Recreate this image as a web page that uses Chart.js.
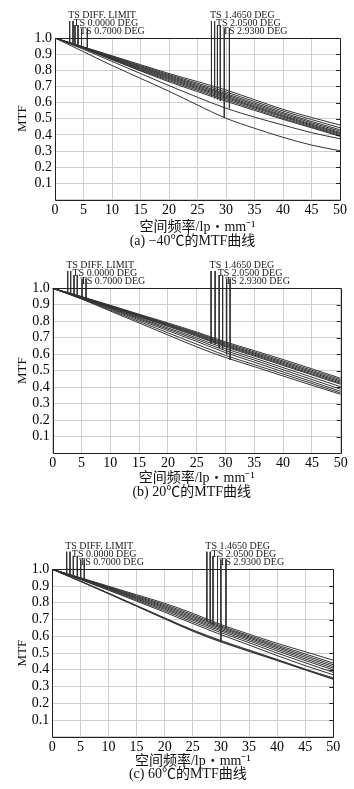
<!DOCTYPE html>
<html>
<head>
<meta charset="utf-8">
<script src="https://cdn.jsdelivr.net/npm/chart.js@4.4.1/dist/chart.umd.min.js"></script>
<style>
  body { margin: 0; background: #fff; }
  #wrap { position: relative; width: 354px; height: 789px; }
  canvas { position: absolute; left: 0; }
</style>
</head>
<body>
<div id="wrap">
  <canvas id="chartA" width="354" height="255" style="top:0px"></canvas>
  <canvas id="chartB" width="354" height="262" style="top:250px"></canvas>
  <canvas id="chartC" width="354" height="258" style="top:531px"></canvas>
</div>
<script>
// Data
const freq = [0, 5, 10, 15, 20, 25, 30, 35, 40, 45, 50];

const fieldLabels = ['TS DIFF. LIMIT', 'TS 0.0000 DEG', 'TS 0.7000 DEG',
                     'TS 1.4650 DEG', 'TS 2.0500 DEG', 'TS 2.9300 DEG'];

// (a) -40 C
const curvesA = [
  [1, .945, .89, .835, .78, .73, .678, .618, .558, .508, .461],
  [1, .943, .886, .829, .773, .72, .666, .607, .548, .495, .444],
  [1, .942, .883, .824, .767, .712, .656, .597, .538, .483, .432],
  [1, .941, .88, .82, .761, .705, .648, .589, .53, .475, .423],
  [1, .94, .877, .815, .755, .698, .64, .581, .522, .467, .415],
  [1, .939, .874, .81, .749, .691, .633, .574, .516, .461, .409],
  [1, .938, .871, .805, .743, .684, .626, .568, .51, .455, .403],
  [1, .937, .868, .8, .736, .676, .617, .56, .502, .449, .396],
  [1, .936, .865, .796, .729, .668, .608, .552, .496, .444, .391],
  [1, .93, .855, .78, .705, .633, .565, .51, .461, .414, .376],
  [1, .915, .83, .75, .67, .585, .503, .441, .385, .337, .302]
];
// (b) 20 C
const curvesB = [
  [1, .95, .897, .843, .79, .735, .675, .622, .568, .512, .454],
  [1, .949, .894, .839, .785, .729, .668, .614, .559, .503, .446],
  [1, .948, .892, .836, .781, .724, .662, .607, .552, .495, .438],
  [1, .947, .89, .833, .777, .719, .656, .601, .545, .488, .431],
  [1, .946, .888, .83, .773, .714, .65, .595, .538, .481, .424],
  [1, .945, .886, .827, .769, .709, .645, .589, .532, .475, .418],
  [1, .943, .882, .821, .76, .699, .634, .577, .519, .461, .403],
  [1, .941, .878, .815, .752, .689, .622, .565, .506, .447, .388],
  [1, .939, .874, .808, .743, .678, .61, .552, .493, .434, .375],
  [1, .937, .868, .799, .73, .661, .593, .537, .48, .423, .365],
  [1, .935, .862, .79, .717, .645, .58, .525, .468, .412, .357]
];
// (c) 60 C
const curvesC = [
  [1, .95, .899, .848, .797, .737, .67, .613, .558, .508, .457],
  [1, .948, .895, .842, .789, .728, .662, .604, .548, .495, .44],
  [1, .947, .892, .837, .782, .72, .655, .597, .54, .485, .43],
  [1, .946, .889, .832, .775, .712, .648, .59, .532, .475, .42],
  [1, .944, .886, .827, .768, .704, .64, .582, .523, .465, .41],
  [1, .943, .883, .822, .761, .696, .632, .573, .513, .455, .40],
  [1, .941, .879, .816, .753, .686, .622, .562, .5, .442, .385],
  [1, .939, .875, .81, .744, .676, .61, .548, .485, .425, .37],
  [1, .93, .858, .784, .71, .638, .575, .518, .462, .404, .352],
  [1, .929, .856, .781, .707, .634, .57, .514, .458, .402, .346],
  [1, .928, .854, .779, .704, .63, .566, .51, .455, .399, .343]
];

// field marker leaders: x position, top and end (MTF units)
const markTop = [1.105, 1.105, 1.08, 1.08, 1.058, 1.058, 1.105, 1.105, 1.08, 1.08, 1.058, 1.058];
const markXA = [2.57, 3.16, 3.5, 4.04, 4.65, 5.67, 27.45, 28.0, 28.5, 29.0, 29.7, 30.6];
const markEndA = [.967, .965, .961, .957, .95, .94, .637, .627, .62, .61, .505, .565];
const markXB = [2.6, 3.12, 3.7, 4.27, 5.09, 5.78, 27.5, 28.2, 28.9, 29.5, 30.2, 30.8];
const markEndB = [.968, .964, .958, .953, .945, .937, .666, .66, .64, .63, .60, .565];
const markXC = [2.56, 3.15, 3.74, 4.45, 5.05, 5.69, 27.5, 28.1, 28.6, 29.4, 30.0, 30.9];
const markEndC = [.968, .964, .958, .952, .945, .938, .688, .678, .668, .662, .566, .648];

const serif = '"Liberation Serif", "Noto Sans CJK SC", serif';

// box, right-side ticks, field labels and caption
const decor = {
  id: 'decor',
  afterDraw(chart, args, opts) {
    const { ctx, chartArea: a, scales: { x, y } } = chart;
    ctx.save();
    ctx.strokeStyle = '#222';
    ctx.lineWidth = 1;
    ctx.beginPath();
    ctx.rect(Math.round(a.left) + 0.5, Math.round(a.top) + 0.5,
             Math.round(a.right - a.left), Math.round(a.bottom - a.top));
    for (let v = 1; v < 10; v++) {
      const py = Math.round(y.getPixelForValue(v / 10)) + 0.5;
      ctx.moveTo(a.right - 4, py);
      ctx.lineTo(a.right, py);
    }
    ctx.stroke();

    ctx.fillStyle = '#222';
    ctx.font = '10px ' + serif;
    ctx.textBaseline = 'middle';
    fieldLabels.forEach((t, i) => {
      const px = x.getPixelForValue(opts.marks[i * 2]) - 1.5;
      ctx.fillText(t, px, a.top - 23 + (i % 3) * 8);
    });

    ctx.fillStyle = '#111';
    ctx.font = '14px ' + serif;
    ctx.textAlign = 'center';
    ctx.fillText(opts.caption, (a.left + a.right) / 2 - 5, a.bottom + opts.capGap);
    ctx.restore();
  }
};

function makePanel(id, curves, markX, markEnd, caption, g) {
  const datasets = curves.map(c => ({
    data: freq.map((f, i) => ({ x: f, y: c[i] })),
    borderColor: '#333',
    borderWidth: 1,
    pointRadius: 0,
    showLine: true,
    cubicInterpolationMode: 'monotone'
  }));
  markX.forEach((mx, i) => {
    datasets.push({
      data: [{ x: mx, y: markTop[i] }, { x: mx, y: markEnd[i] }],
      borderColor: '#333',
      borderWidth: 1,
      pointRadius: 0,
      showLine: true,
      clip: false
    });
  });

  new Chart(document.getElementById(id), {
    type: 'scatter',
    data: { datasets },
    plugins: [decor],
    options: {
      responsive: false,
      animation: false,
      devicePixelRatio: 1,
      layout: { padding: { top: g.top, right: g.right, bottom: g.bottom, left: 0 } },
      plugins: {
        legend: { display: false },
        tooltip: { enabled: false },
        decor: { marks: markX, caption: caption, capGap: g.capGap }
      },
      scales: {
        x: {
          type: 'linear',
          min: 0, max: 50,
          afterFit: s => { s.height = 40; },
          ticks: { stepSize: 5, autoSkip: false, padding: 2, color: '#000', font: { family: serif, size: 14 } },
          grid: { color: '#cfcfcf', drawTicks: false },
          border: { display: false },
          title: {
            display: true,
            text: '空间频率/lp・mm⁻¹',
            color: '#111',
            font: { family: serif, size: 14 },
            padding: { top: 0, bottom: g.titlePad }
          }
        },
        y: {
          min: 0, max: 1,
          afterFit: s => { s.width = g.left; },
          ticks: {
            stepSize: 0.1,
            autoSkip: false,
            padding: 3,
            color: '#000',
            font: { family: serif, size: 14 },
            callback: v => (Math.abs(v) < 1e-9 ? '' : v.toFixed(1))
          },
          grid: { color: '#cfcfcf', drawTicks: false },
          border: { display: false },
          title: {
            display: true,
            text: 'MTF',
            color: '#111',
            font: { family: serif, size: 13 },
            padding: { top: 15, bottom: 0 }
          }
        }
      }
    }
  });
}

makePanel('chartA', curvesA, markXA, markEndA, '(a) −40℃的MTF曲线',
  { top: 38, bottom: 15.5, left: 55, right: 14, titlePad: 3.6, capGap: 42 });
makePanel('chartB', curvesB, markXB, markEndB, '(b) 20℃的MTF曲线',
  { top: 38.3, bottom: 18.8, left: 52.7, right: 13.3, titlePad: 6.9, capGap: 39 });
makePanel('chartC', curvesC, markXC, markEndC, '(c) 60℃的MTF曲线',
  { top: 38.3, bottom: 12.2, left: 52.3, right: 20.7, titlePad: 6.9, capGap: 38 });
</script>
</body>
</html>
